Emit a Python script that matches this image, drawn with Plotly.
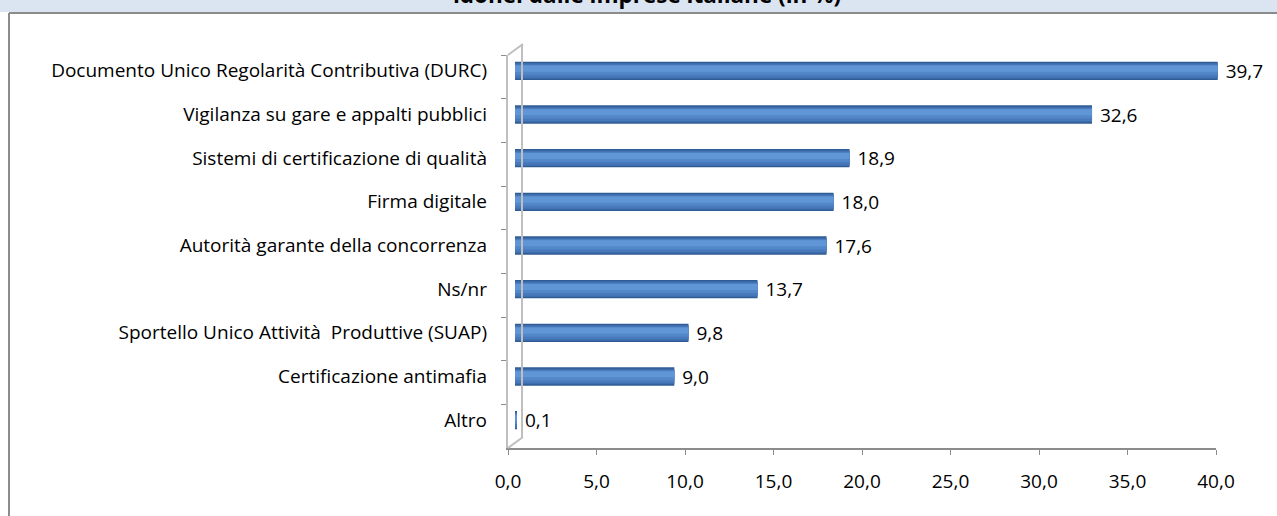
import plotly.graph_objects as go

# data
categories = [
    "Documento Unico Regolarità Contributiva (DURC)",
    "Vigilanza su gare e appalti pubblici",
    "Sistemi di certificazione di qualità",
    "Firma digitale",
    "Autorità garante della concorrenza",
    "Ns/nr",
    "Sportello Unico Attività  Produttive (SUAP)",
    "Certificazione antimafia",
    "Altro",
]
values = [39.7, 32.6, 18.9, 18.0, 17.6, 13.7, 9.8, 9.0, 0.1]
x_ticks = [0, 5, 10, 15, 20, 25, 30, 35, 40]
title_text = "idonei dalle imprese italiane (in %)"

# page layout in pixels
W_PAGE, H_PAGE = 1277, 516
L, R = 508, 1231      # plot area left / right
T, B = 44, 448        # plot area top / bottom
PW, PH = R - L, B - T


def px(xp):
    return (xp - L) / PW


def py(yp):
    return (B - yp) / PH


font_main = "'Open Sans', Lato, sans-serif"
label_font = dict(family=font_main, size=19, color="#000000")

fig = go.Figure()

# cylinder look: overlay bars from widest/darkest to narrow/light
layers = [
    (0.42, "#305C95", 0),
    (0.36, "#3D6DAC", 0),
    (0.30, "#4879BA", 0),
    (0.22, "#5287C9", -0.02),
    (0.14, "#6196D6", -0.05),
]
for i, (w, col, shift) in enumerate(layers):
    bar = dict(
        y=categories, x=values, orientation="h", width=w, offset=-w / 2 + shift,
        marker=dict(color=col, line=dict(width=0)),
        xaxis="x2", yaxis="y2", hoverinfo="skip",
    )
    if i == 0:
        bar.update(text=values, texttemplate="\u00a0%{x:.1f}", textposition="outside",
                   textfont=label_font, constraintext="none", cliponaxis=False)
    fig.add_trace(go.Bar(**bar))

# front axes (ticks) and back wall need a trace each to show up
fig.add_trace(go.Scatter(x=[None], y=[categories[0]], xaxis="x", yaxis="y",
                         showlegend=False, hoverinfo="skip"))
fig.add_trace(go.Scatter(x=[None], y=[categories[0]], xaxis="x3", yaxis="y3",
                         showlegend=False, hoverinfo="skip"))

axis_gray = "#8C8C8C"
wall_gray = "#BFBFBF"
cat_range = [len(categories) - 0.5, -0.5]

fig.update_layout(
    width=W_PAGE, height=H_PAGE,
    margin=dict(l=L, r=W_PAGE - R, t=T, b=H_PAGE - B, pad=0),
    paper_bgcolor="white", plot_bgcolor="rgba(0,0,0,0)",
    separators=",.",
    barmode="overlay", showlegend=False,
    font=dict(family=font_main, size=19, color="#000000"),
    # front: x axis with labels, y axis with boundary ticks
    xaxis=dict(domain=[0, 708 / PW], range=[0, 40], tickvals=x_ticks, tickformat=".1f",
               showgrid=False, zeroline=False, showline=True, linecolor=axis_gray, linewidth=2,
               ticks="outside", ticklen=5, tickcolor=axis_gray, tickwidth=1,
               ticklabelstandoff=10, tickfont=label_font, anchor="y"),
    yaxis=dict(domain=[0, 393 / PH], type="category", categoryarray=categories, range=cat_range,
               showgrid=False, zeroline=False, showline=True, linecolor=wall_gray, linewidth=2,
               ticks="outside", ticklen=5, tickcolor=axis_gray, tickson="boundaries",
               showticklabels=False, anchor="x"),
    # bars sit slightly back in depth
    xaxis2=dict(domain=[7 / PW, 715 / PW], range=[0, 40], visible=False, anchor="y2"),
    yaxis2=dict(domain=[py(442), py(49)], type="category", categoryarray=categories, range=cat_range,
                showgrid=False, zeroline=False, showline=False, ticks="",
                ticklabelstandoff=27, tickfont=label_font, anchor="x2"),
    # back wall
    xaxis3=dict(domain=[15 / PW, 1], range=[0, 40], visible=False, anchor="y3"),
    yaxis3=dict(domain=[py(437), 1], type="category", categoryarray=categories, range=cat_range,
                showgrid=False, zeroline=False, showline=True, linecolor=wall_gray, linewidth=2,
                ticks="", showticklabels=False, anchor="x3"),
)

# wall diagonals, header band and outer frame
shapes = [
    dict(type="line", x0=0, y0=py(55), x1=px(523), y1=py(44), line=dict(color=wall_gray, width=2)),
    dict(type="line", x0=0, y0=0, x1=px(523), y1=py(437), line=dict(color=wall_gray, width=2)),
    dict(type="rect", x0=px(-5), x1=px(W_PAGE + 5), y0=py(12), y1=py(-5),
         fillcolor="#DBE5F1", line=dict(width=0), layer="below"),
    dict(type="line", x0=px(9), x1=px(W_PAGE + 5), y0=py(13), y1=py(13), line=dict(color=axis_gray, width=2)),
    dict(type="line", x0=px(9), x1=px(9), y0=py(13), y1=py(H_PAGE + 5), line=dict(color=axis_gray, width=2)),
]
for s in shapes:
    s.update(xref="paper", yref="paper")
fig.update_layout(shapes=shapes)

# title, cut off at the top of the picture as in the source
fig.add_annotation(
    text="<b>" + title_text + "</b>", xref="paper", yref="paper",
    x=px(647), y=py(12), xanchor="center", yanchor="bottom", showarrow=False,
    font=dict(family=font_main, size=22.5, color="#000000"),
)

# drop the default page margin so the figure starts at the window corner
fig.write_html("out.html", config={"displayModeBar": False},
               post_script="document.body.style.margin='0';")
